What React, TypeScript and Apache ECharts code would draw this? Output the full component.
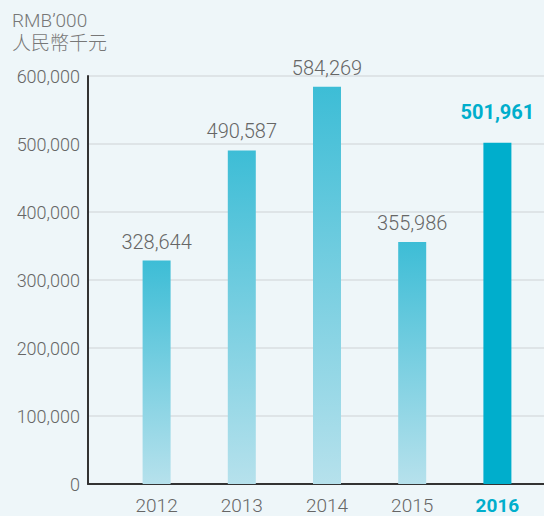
import React, { useEffect, useRef } from "react";
import * as echarts from "echarts";

const categories = ["2012", "2013", "2014", "2015", "2016"];
const values = [328644, 490587, 584269, 355986, 501961];
const yTicks = [0, 100000, 200000, 300000, 400000, 500000, 600000];
const unitLines = ["RMB’000", "人民幣千元"];

const FONT = "Roboto, 'Noto Sans CJK TC', sans-serif";

export default function App() {
  const ref = useRef<HTMLDivElement>(null);
  useEffect(() => {
    if (!ref.current) return;
    const chart = echarts.init(ref.current, null, { renderer: "svg" });
    const last = categories.length - 1;
    const grad = new echarts.graphic.LinearGradient(0, 0, 0, 1, [
      { offset: 0, color: "#3dbdd6" },
      { offset: 1, color: "#b6e1ec" },
    ]);
    chart.setOption({
      animation: false,
      backgroundColor: "#eef6f9",
      graphic: [
        {
          type: "text",
          left: 12,
          top: 9,
          style: {
            text: unitLines.join("\n"),
            fontFamily: FONT,
            fontSize: 19,
            fontWeight: 300,
            lineHeight: 23,
            fill: "#777777",
          },
        },
      ],
      grid: [
        { left: 88, right: 0, top: 76, bottom: 32 },
        { left: 114, right: 4, top: 76, bottom: 32 },
      ],
      xAxis: [
        {
          gridIndex: 0,
          type: "value",
          min: 0,
          max: 1,
          axisLine: { show: true, onZero: false, lineStyle: { color: "#333333", width: 2 } },
          axisTick: { show: false },
          axisLabel: { show: false },
          splitLine: { show: false },
        },
        {
          gridIndex: 1,
          type: "category",
          data: categories,
          axisLine: { show: false },
          axisTick: { show: false },
          axisLabel: {
            interval: 0,
            margin: 12,
            fontFamily: FONT,
            fontSize: 19,
            fontWeight: 300,
            color: "#666666",
            formatter: (v: string) => (v === categories[last] ? "{hl|" + v + "}" : v),
            rich: {
              hl: { fontFamily: FONT, fontSize: 19, fontWeight: "bold", color: "#00aecc" },
            },
          },
        },
      ],
      yAxis: [
        {
          gridIndex: 0,
          type: "value",
          min: yTicks[0],
          max: yTicks[yTicks.length - 1],
          interval: yTicks[1] - yTicks[0],
          axisLine: { show: true, lineStyle: { color: "#333333", width: 2 } },
          axisTick: { show: false },
          axisLabel: {
            margin: 8,
            fontFamily: FONT,
            fontSize: 18,
            fontWeight: 300,
            color: "#666666",
            formatter: (v: number) => v.toLocaleString("en-US"),
          },
          splitLine: { show: true, lineStyle: { color: "#d8dee1", width: 1.5 } },
        },
        {
          gridIndex: 1,
          type: "value",
          min: yTicks[0],
          max: yTicks[yTicks.length - 1],
          show: false,
          splitLine: { show: false },
        },
      ],
      series: [
        {
          type: "bar",
          xAxisIndex: 1,
          yAxisIndex: 1,
          barWidth: 28,
          data: values.map((v, i) =>
            i === last
              ? {
                  value: v,
                  itemStyle: { color: "#00aecc" },
                  label: {
                    distance: 21,
                    fontWeight: "bold",
                    color: "#00aecc",
                  },
                }
              : { value: v, itemStyle: { color: grad } }
          ),
          label: {
            show: true,
            position: "top",
            distance: 9,
            fontFamily: FONT,
            fontSize: 20,
            fontWeight: 300,
            color: "#666666",
            formatter: (p: any) => Number(p.value).toLocaleString("en-US"),
          },
        },
      ],
    });
    return () => chart.dispose();
  }, []);
  return <div ref={ref} style={{ width: 544, height: 516, position: "absolute", left: 0, top: 0 }} />;
}
